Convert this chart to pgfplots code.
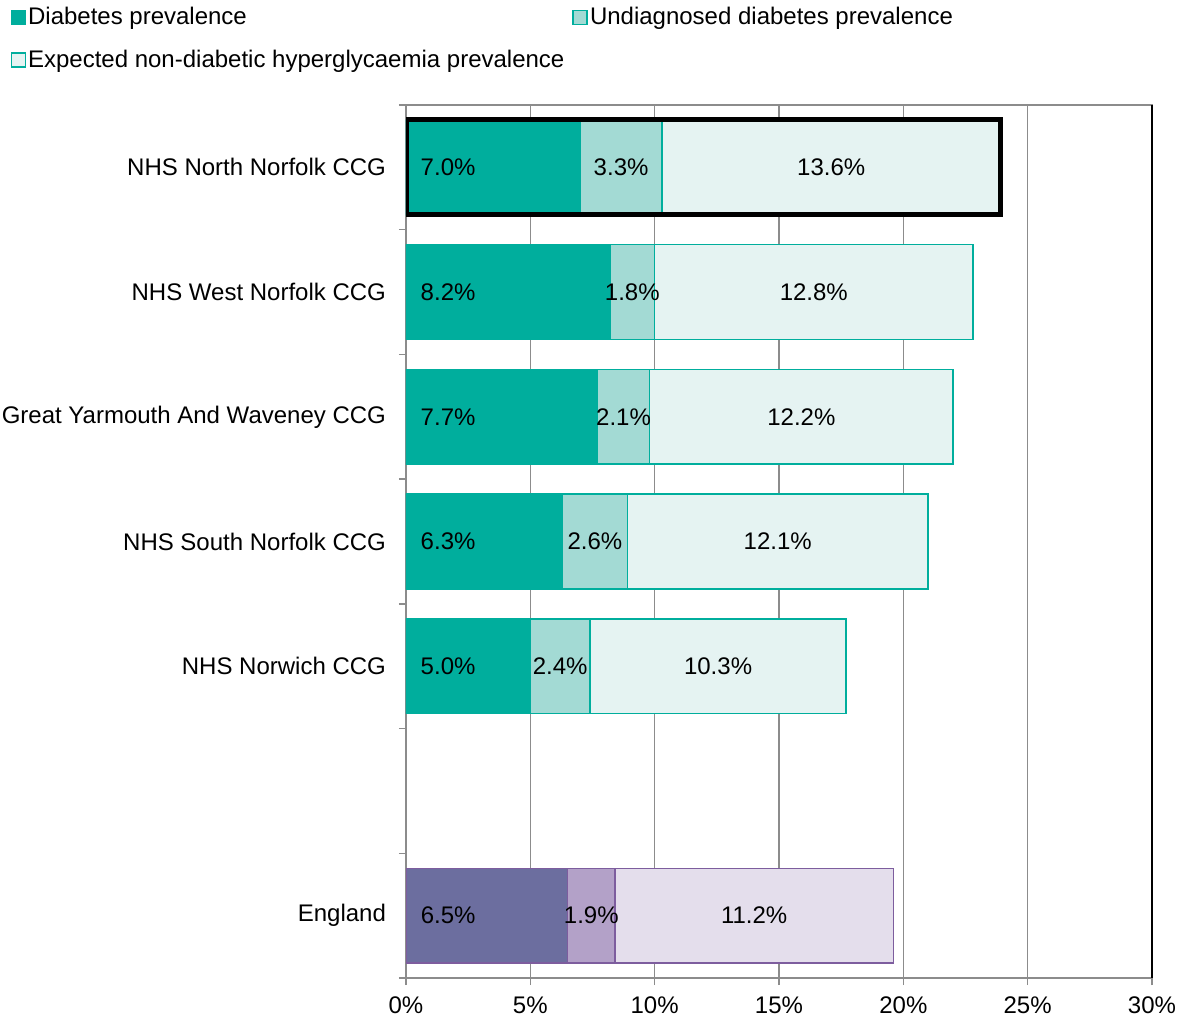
\documentclass[border=0pt]{standalone}
\usepackage{pgfplots}
\pgfplotsset{compat=1.18}
\usepackage{pgfplotstable}
\usepackage{fontspec}
\setmainfont{Liberation Sans}
\definecolor{tealA}{HTML}{00AE9D}
\definecolor{tealB}{HTML}{A3DAD4}
\definecolor{tealC}{HTML}{E5F3F2}
\definecolor{purA}{HTML}{6C6E9F}
\definecolor{purB}{HTML}{B3A1C8}
\definecolor{purC}{HTML}{E4DEEC}
\definecolor{purL}{HTML}{7D5D9E}
\definecolor{gridgray}{HTML}{8C8C8C}

\pgfplotstableread{
y s1 s2 s3
0 7.0 3.3 13.6
1 8.2 1.8 12.8
2 7.7 2.1 12.2
3 6.3 2.6 12.1
4 5.0 2.4 10.3
}\ccgdata
\pgfplotstableread{
y s1 s2 s3
6 6.5 1.9 11.2
}\engdata
\pgfplotstableread{
y t
0 23.9
}\nndata

\pgfplotsset{
  base/.style={
    width=373pt, height=436.5pt, scale only axis,
    xmin=0, xmax=30, ymin=-0.5, ymax=6.5, y dir=reverse,
    xbar stacked, bar width=0.76,
    /pgf/number format/assume math mode=true,
  },
  firstlab/.style={
    nodes near coords={\pgfmathprintnumber[fixed,fixed zerofill,precision=1]{\pgfplotspointmeta}\%},
    point meta=explicit,
    visualization depends on={\thisrow{#1} \as \rawv},
    every node near coord/.append style={anchor=west, inner sep=0pt, text=black,
      shift={(axis direction cs:-\rawv/2,0)}, xshift=7pt},
  },
  midlab/.style={
    nodes near coords={\pgfmathprintnumber[fixed,fixed zerofill,precision=1]{\pgfplotspointmeta}\%},
    point meta=explicit,
    every node near coord/.append style={anchor=center, inner sep=0pt, text=black},
  },
}

\begin{document}
\begin{tikzpicture}[font=\fontsize{12}{14.4}\selectfont]
\useasboundingbox (-203pt,-20pt) rectangle (386pt,489pt);
\begin{axis}[base,
  axis line style={gridgray, line width=0.75pt},
  tick align=outside,
  major tick length=3.5pt,
  tick style={gridgray, line width=0.75pt},
  xtick pos=bottom, ytick pos=left,
  xtick={0,5,...,30},
  xticklabel={\pgfmathprintnumber{\tick}\%},
  xticklabel style={yshift=-2.5pt},
  xmajorgrids,
  grid style={gridgray, line width=0.75pt},
  extra x ticks={30},
  extra x tick labels={},
  extra x tick style={grid=major, major grid style={black, line width=1pt}, tick style={gridgray}},
  ytick={-0.5,0.5,...,6.5},
  yticklabels={{},{},{},{},{},{},{},{}},
  extra y ticks={0,1,2,3,4,5,6},
  extra y tick labels={NHS North Norfolk CCG, NHS West Norfolk CCG, Great Yarmouth And Waveney CCG, NHS South Norfolk CCG, NHS Norwich CCG, {}, England},
  extra y tick style={tick style={draw=none}, yticklabel style={xshift=-3pt}},
  legend columns=2,
  legend cell align=left,
  legend image code/.code={\draw[#1, line width=0.8pt] (0pt,-3.5pt) rectangle (7pt,3.5pt);},
  legend style={at={(axis description cs:-0.528,1)}, anchor=north west, yshift=50pt, xshift=-1pt,
    draw=none, fill=none, inner sep=0pt, row sep=9pt,
    nodes={inner sep=1pt},
    /tikz/every even column/.append style={column sep=3pt}},
]
\addplot[fill=tealA, draw=tealA, line width=0.75pt, firstlab=s1] table[x=s1, y=y, meta=s1] {\ccgdata};
\addlegendentry{Diabetes prevalence}
\addplot[fill=tealB, draw=tealA, line width=0.75pt, midlab=s2] table[x=s2, y=y, meta=s2] {\ccgdata};
\addlegendentry{Undiagnosed diabetes prevalence}
\addplot[fill=tealC, draw=tealA, line width=0.75pt, midlab=s3] table[x=s3, y=y, meta=s3] {\ccgdata};
\addlegendentry{Expected non-diabetic hyperglycaemia prevalence}
\end{axis}
\begin{axis}[base, hide axis]
\addplot[fill=purA, draw=purL, line width=0.75pt, firstlab=s1] table[x=s1, y=y, meta=s1] {\engdata};
\addplot[fill=purB, draw=purL, line width=0.75pt, midlab=s2] table[x=s2, y=y, meta=s2] {\engdata};
\addplot[fill=purC, draw=purL, line width=0.75pt, midlab=s3] table[x=s3, y=y, meta=s3] {\engdata};
\end{axis}
\begin{axis}[base, hide axis]
\addplot[fill=none, draw=black, line width=2.5pt] table[x=t, y=y] {\nndata};
\end{axis}
\end{tikzpicture}
\end{document}
